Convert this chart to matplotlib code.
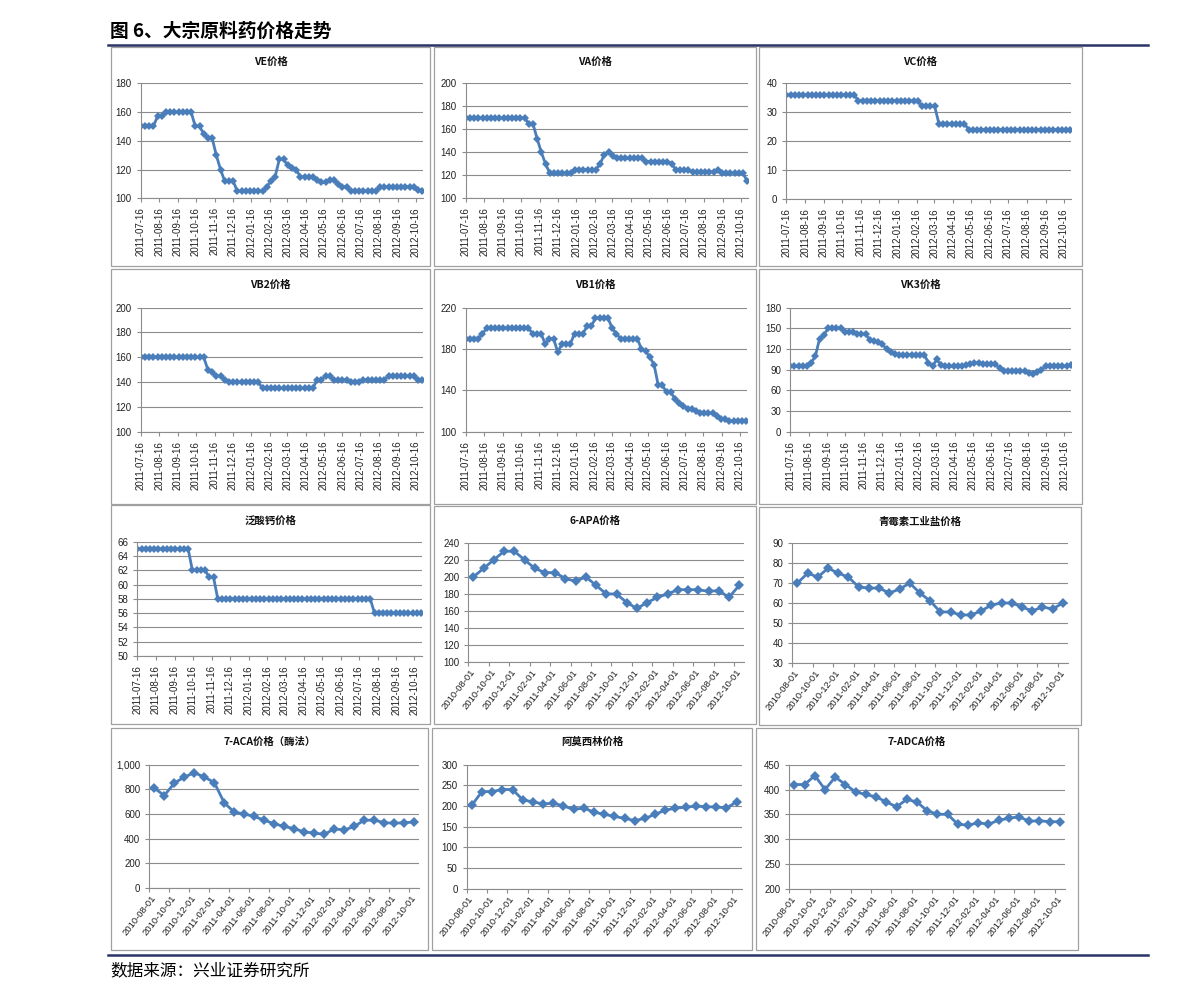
import numpy as np
import pandas as pd
import matplotlib
matplotlib.use("Agg")
import matplotlib.pyplot as plt
import matplotlib.dates as mdates
from matplotlib.patches import Rectangle
from matplotlib.lines import Line2D
from matplotlib.ticker import FuncFormatter

plt.rcParams['font.family'] = ['Noto Sans CJK SC', 'DejaVu Sans']

# weekly series, 2011-07-16 onwards
week_dates = pd.date_range('2011-07-16', periods=68, freq='7D')
week_ticks = pd.date_range('2011-07-16', periods=16, freq=pd.DateOffset(months=1))

ve = ([150] * 4 + [157] * 2 + [160] * 7 + [150] * 2 + [145] + [142] * 2 + [130, 120] + [112] * 3
      + [105] * 7 + [108, 112, 115, 127, 127, 123, 121, 120] + [115] * 4 + [113, 111, 111, 113, 113, 110, 108, 108]
      + [105] * 7 + [108] * 9 + [106, 105])
va = ([170] * 15 + [165, 165, 152, 140, 130] + [122] * 6 + [125] * 6 + [130, 138, 140, 137] + [135] * 7
      + [132] * 6 + [130] + [125] * 4 + [123] * 6 + [125] + [122] * 6 + [115])
vc = [36] * 17 + [34] * 15 + [32] * 4 + [26] * 7 + [24] * 25
vb2 = ([160] * 16 + [150, 148, 145, 145, 142] + [140] * 8 + [135] * 13 + [142, 142, 145, 145] + [142] * 4
       + [140] * 3 + [142] * 6 + [145] * 7 + [142] * 2)
vb1 = ([190] * 4 + [195] + [200] * 11 + [195] * 3 + [185, 190, 190, 177] + [185] * 3 + [195] * 3 + [202, 202]
       + [210] * 4 + [200, 195] + [190] * 5 + [180, 178, 172, 165, 145, 145, 138, 138, 132, 128, 125, 122, 122, 120]
       + [118] * 4 + [115, 112, 112] + [110] * 5)
vk3 = ([95] * 5 + [100, 110, 135, 140] + [150] * 4 + [145] * 3 + [142] * 3 + [133, 132, 130, 127, 120, 115, 113]
       + [112] * 7 + [100, 95, 105, 97] + [95] * 5 + [97, 98, 100, 100] + [98] * 4 + [92] + [88] * 6
       + [85, 84, 87, 90] + [95] * 6 + [97])
fansuangai = [65] * 13 + [62] * 4 + [61] * 2 + [58] * 37 + [56] * 12

# monthly series, 2010-08 to 2012-10
month_labels = ['2010-08-01', '2010-10-01', '2010-12-01', '2011-02-01', '2011-04-01', '2011-06-01',
                '2011-08-01', '2011-10-01', '2011-12-01', '2012-02-01', '2012-04-01', '2012-06-01',
                '2012-08-01', '2012-10-01']
apa6 = [200, 210, 220, 230, 230, 220, 210, 205, 205, 198, 195, 200, 190, 180, 180, 170, 163, 170, 176,
        180, 185, 185, 185, 183, 184, 176, 190]
qingmeisu = [70, 75, 73, 77.5, 75, 73, 68, 67.5, 67.5, 65, 67, 70, 65, 61, 55.5, 55.5, 54, 54, 56, 59,
             60, 60, 58, 56, 58, 57, 60]
aca7 = [810, 750, 850, 900, 935, 900, 855, 690, 615, 600, 580, 550, 520, 500, 480, 455, 445, 435, 480,
        470, 500, 550, 550, 530, 525, 530, 535]
amoxilin = [202, 235, 235, 240, 240, 215, 210, 205, 207, 200, 192, 195, 185, 180, 175, 170, 165, 170,
            180, 190, 195, 197, 200, 198, 198, 195, 210]
adca7 = [410, 410, 428, 400, 425, 410, 395, 390, 385, 375, 365, 380, 375, 357, 350, 350, 330, 328, 333,
         330, 338, 342, 345, 336, 337, 335, 335]

W, H = 1191, 999
BLUE = '#4a7ebb'
GRID = '#8c8c8c'

fig = plt.figure(figsize=(W / 100, H / 100), dpi=100)


def rect(l, t, r, b):
    return [l / W, 1 - b / H, (r - l) / W, (b - t) / H]


def panel(box, plot, title, title_y, yticks):
    l, t, r, b = box
    fig.add_artist(Rectangle((l / W, 1 - b / H), (r - l) / W, (b - t) / H, transform=fig.transFigure,
                             fill=False, ec='#a0a0a0', lw=0.9))
    fig.text((l + r) / 2 / W, 1 - title_y / H, title, ha='center', va='center',
             fontsize=7.5, fontweight='bold', color='#111111')
    ax = fig.add_axes(rect(*plot))
    ax.set_ylim(yticks[0], yticks[-1])
    ax.set_yticks(yticks)
    ax.grid(axis='y', color=GRID, lw=0.8)
    ax.set_axisbelow(True)
    for s in ['top', 'right']:
        ax.spines[s].set_visible(False)
    for s in ['left', 'bottom']:
        ax.spines[s].set_color(GRID)
        ax.spines[s].set_linewidth(0.8)
    ax.tick_params(axis='both', which='both', colors=GRID, labelcolor='#222222', labelsize=7,
                   length=3, width=0.8)
    for lab in ax.get_yticklabels():
        lab.set_fontfamily('Liberation Sans')
    return ax


def weekly(box, plot, title, title_y, values, yticks):
    ax = panel(box, plot, title, title_y, yticks)
    x = mdates.date2num(week_dates.to_pydatetime())
    ax.plot(x, values, color=BLUE, lw=2, marker='D', ms=4.3, mew=0)
    ax.set_xlim(x[0], x[-1] + 1)
    ax.set_xticks(mdates.date2num(week_ticks.to_pydatetime()))
    ax.set_xticklabels([d.strftime('%Y-%m-%d') for d in week_ticks], rotation=90,
                       fontfamily='Liberation Sans')
    return ax


def monthly(box, plot, title, title_y, values, yticks):
    ax = panel(box, plot, title, title_y, yticks)
    x = np.arange(len(values))
    ax.plot(x, values, color=BLUE, lw=2, marker='D', ms=4.8, mew=0)
    ax.set_xlim(-0.5, len(values) - 0.5)
    ax.set_xticks(np.arange(0, len(values), 2))
    ax.set_xticklabels(month_labels, rotation=52, ha='right', va='center', rotation_mode='anchor',
                       fontfamily='Liberation Sans', fontsize=6.8)
    ax.set_xticks(np.arange(-0.5, len(values), 2), minor=True)
    ax.tick_params(axis='x', which='major', length=0, pad=6)
    return ax


# row 1
weekly((111, 47, 430, 266), (140.7, 83.3, 422.7, 198.3), 'VE价格', 62, ve, list(range(100, 181, 20)))
weekly((434, 47, 756, 266), (465.7, 83.3, 747.7, 198.3), 'VA价格', 62, va, list(range(100, 201, 20)))
weekly((759, 47, 1082, 266), (786.3, 83.3, 1071, 199), 'VC价格', 62, vc, list(range(0, 41, 10)))
# row 2
weekly((111, 269, 430, 504), (140.7, 307.7, 422.7, 431.7), 'VB2价格', 285, vb2, list(range(100, 201, 20)))
weekly((434, 269, 756, 504), (465.7, 307.7, 746.7, 431.7), 'VB1价格', 285, vb1, list(range(100, 221, 40)))
weekly((759, 269, 1082, 504), (790.3, 307.7, 1071.3, 431.7), 'VK3价格', 285, vk3, list(range(0, 181, 30)))
# row 3
weekly((111, 505, 430, 724), (137.3, 541.7, 421.7, 656), '泛酸钙价格', 521, fansuangai, list(range(50, 67, 2)))
monthly((434, 506, 756, 724), (468.3, 542.7, 744.3, 662.3), '6-APA价格', 521, apa6, list(range(100, 241, 20)))
monthly((759, 507, 1081, 725), (792.3, 543.3, 1068, 662.7), '青霉素工业盐价格', 522, qingmeisu,
        list(range(30, 91, 10)))
# row 4
ax = monthly((111, 728, 428, 950), (149.3, 764.7, 419.3, 888), '7-ACA价格（酶法）', 742, aca7,
             list(range(0, 1001, 200)))
ax.yaxis.set_major_formatter(FuncFormatter(lambda v, p: f'{int(v):,}'))
for lab in ax.get_yticklabels():
    lab.set_fontfamily('Liberation Sans')
monthly((432, 728, 752, 950), (466.7, 764.7, 741.7, 888.7), '阿莫西林价格', 742, amoxilin,
        list(range(0, 301, 50)))
monthly((756, 728, 1078, 950), (789.3, 764.7, 1065, 888.7), '7-ADCA价格', 742, adca7,
        list(range(200, 451, 50)))

# header and footer
fig.text(110 / W, 1 - 31 / H, '图 6、大宗原料药价格走势', fontsize=13.5, fontweight='bold', va='center')
fig.add_artist(Line2D([108 / W, 1148 / W], [1 - 45 / H] * 2, color='#2b3467', lw=1.8))
fig.add_artist(Line2D([108 / W, 1148 / W], [1 - 955 / H] * 2, color='#2b3467', lw=1.8))
fig.text(110 / W, 1 - 971 / H, '数据来源：兴业证券研究所', fontsize=12, va='center')

fig.savefig('out.png', dpi=100)
